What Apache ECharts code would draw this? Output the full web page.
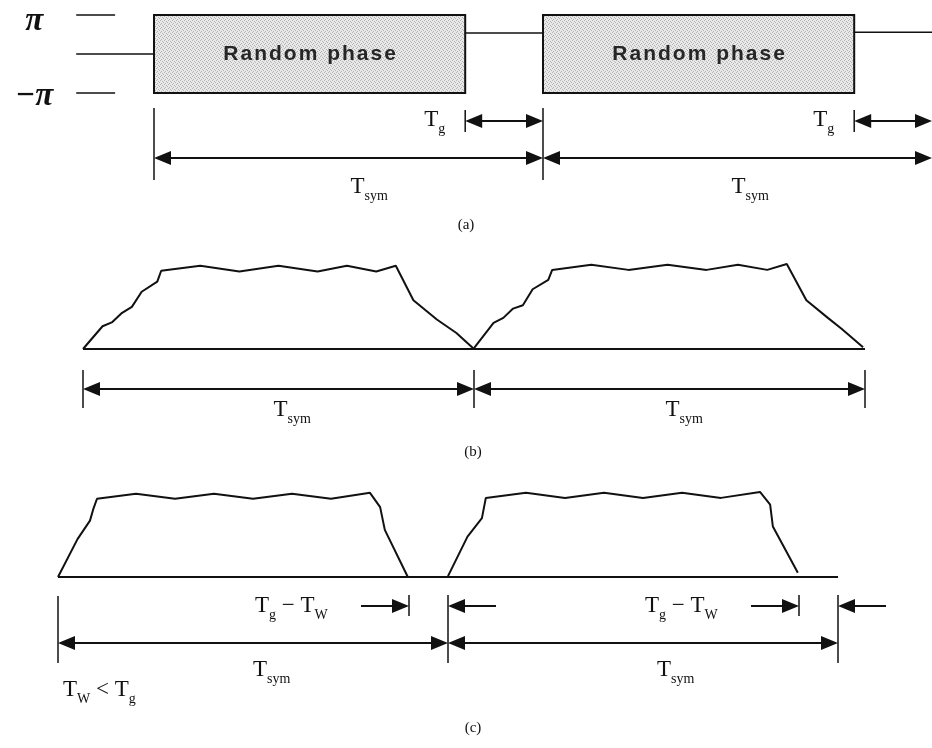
<!DOCTYPE html>
<html><head><meta charset="utf-8">
<script src="https://cdn.jsdelivr.net/npm/echarts@6/dist/echarts.min.js"></script>
<style>html,body{margin:0;padding:0;background:#fff}#c{width:932px;height:748px}</style>
</head><body><div id="c"></div>
<script>
// ================= DATA (time in units of Tsym) =================
// Panel (a): random phase per symbol (phase in units of π)
const phaseTickLabels = ['π', '−π'];
const phaseTickValues = [1, -1];
const boxStart = [0, 1];
const boxEnd = [0.8, 1.8];
const boxText = ['Random phase', 'Random phase'];
const phaseSegStart = [-0.2, 0.8, 1.8];
const phaseSegEnd = [0, 1, 2];
const phaseSegLevel = [0, 0.54, 0.56];
const guardStartA = [0.8, 1.8];
const guardEndA = [1, 2];
const symStart = [0, 1];
const symEnd = [1, 2];

// Panel (b): window envelope, Tw = Tg
const envB1T = [0, 0.05, 0.075, 0.10, 0.125, 0.15, 0.19, 0.20, 0.30, 0.40, 0.50, 0.60, 0.675, 0.75, 0.80, 0.845, 0.905, 0.955, 1.0];
const envB1A = [0, 0.27, 0.32, 0.43, 0.50, 0.68, 0.80, 0.93, 0.99, 0.92, 0.99, 0.92, 0.99, 0.92, 0.99, 0.58, 0.35, 0.19, 0];
const envB2T = [1.0, 1.05, 1.075, 1.10, 1.125, 1.15, 1.19, 1.20, 1.30, 1.395, 1.495, 1.595, 1.675, 1.75, 1.80, 1.85, 1.905, 1.94, 1.995];
const envB2A = [0.01, 0.31, 0.37, 0.48, 0.52, 0.71, 0.82, 0.94, 1.0, 0.94, 1.0, 0.94, 1.0, 0.94, 1.01, 0.58, 0.37, 0.24, 0.02];

// Panel (c): window envelope, Tw < Tg
const envC1T = [0, 0.05, 0.082, 0.09, 0.10, 0.20, 0.30, 0.40, 0.50, 0.60, 0.70, 0.80, 0.826, 0.838, 0.897];
const envC1A = [0, 0.45, 0.67, 0.80, 0.93, 0.99, 0.93, 0.99, 0.93, 0.99, 0.93, 1.0, 0.83, 0.56, 0];
const envC2T = [1.0, 1.05, 1.087, 1.097, 1.20, 1.30, 1.40, 1.50, 1.60, 1.70, 1.80, 1.826, 1.833, 1.897];
const envC2A = [0.01, 0.48, 0.70, 0.94, 1.0, 0.94, 1.0, 0.94, 1.0, 0.94, 1.01, 0.86, 0.60, 0.05];
const gapStartC = [0.9, 1.9];
const gapEndC = [1, 2];

const captions = ['(a)', '(b)', '(c)'];

// ================= LAYOUT / STYLE =================
const INK = '#111';
const SERIF = '"Liberation Serif","DejaVu Serif",serif';
const MAIN_FONT = '23px ' + SERIF;
const SUB_FONT = '14px ' + SERIF;
const BOX_FONT = 'bold 21px "Liberation Sans",Arial,sans-serif';
const GRIDS = [
  {left: 154, top: 15, width: 778, height: 78},
  {left: 83, top: 248, width: 782, height: 101},
  {left: 58, top: 476, width: 780, height: 101}
];
const Y_RANGE = [[-1, 1], [0, 1.2], [0, 1.2]];

const chart = echarts.init(document.getElementById('c'), null, {renderer: 'canvas', width: 932, height: 748});

// stipple fill for the phase boxes
const pc = document.createElement('canvas'); pc.width = 4; pc.height = 4;
const pg = pc.getContext('2d');
pg.fillStyle = '#e8e8e8'; pg.fillRect(0, 0, 4, 4);
pg.fillStyle = '#b4b4b4';
[[0, 0], [2, 1], [1, 3], [3, 2]].forEach(([x, y]) => pg.fillRect(x, y, 1, 1));
const stipple = {image: pc, repeat: 'repeat'};

const mctx = document.createElement('canvas').getContext('2d');
function tw(t, f) { mctx.font = f; return mctx.measureText(t).width; }
function txt(t, x, y, font, align, fill) {
  return {type: 'text', style: {text: t, x: x, y: y, font: font, fill: fill || INK,
    align: align || 'left', verticalAlign: 'middle'}};
}
// letter-spaced text, centred on (x, y)
function spaced(t, x, y, font, sp, fill) {
  const chars = Array.from(t);
  const total = chars.reduce((s, c) => s + tw(c, font), 0) + sp * (chars.length - 1);
  let cx = x - total / 2;
  return chars.map(c => { const el = txt(c, cx, y, font, 'left', fill); cx += tw(c, font) + sp; return el; });
}
function richLabel(x, y, parts, align) {
  const total = parts.reduce((s, [t, sub]) => s + tw(t, sub ? SUB_FONT : MAIN_FONT), 0);
  let cx = align === 'right' ? x - total : align === 'center' ? x - total / 2 : x;
  return parts.map(([t, sub]) => {
    const f = sub ? SUB_FONT : MAIN_FONT;
    const el = txt(t, cx, sub ? y + 9 : y, f, 'left');
    cx += tw(t, f);
    return el;
  });
}
function head(x, y, d) {
  return {type: 'polygon', shape: {points: [[x, y], [x - d * 17, y - 7], [x - d * 17, y + 7]]}, style: {fill: INK}};
}
function renderAnn(items) {
  return function (params, api) {
    const it = items[params.dataIndex];
    const X = t => api.coord([t, 0])[0];
    if (it.type === 'tick') {
      const x = X(it.t);
      return {type: 'line', shape: {x1: x, y1: it.y0, x2: x, y2: it.y1}, style: {stroke: INK, lineWidth: 1.5}};
    }
    if (it.type === 'dim') {
      const x0 = X(it.t0), x1 = X(it.t1);
      return {type: 'group', children: [
        {type: 'line', shape: {x1: x0 + 5, y1: it.y, x2: x1 - 5, y2: it.y}, style: {stroke: INK, lineWidth: 2}},
        head(x0, it.y, -1), head(x1, it.y, 1)]};
    }
    if (it.type === 'pointer') {
      const x = X(it.t), tail = x - it.dir * it.len;
      return {type: 'group', children: [
        {type: 'line', shape: {x1: tail, y1: it.y, x2: x - it.dir * 5, y2: it.y}, style: {stroke: INK, lineWidth: 2}},
        head(x, it.y, it.dir)]};
    }
    if (it.type === 'label') {
      return {type: 'group', children: richLabel(X(it.t) + it.dx, it.y, it.parts, it.align)};
    }
    return null;
  };
}
function annSeries(gi, items) {
  return {type: 'custom', xAxisIndex: gi, yAxisIndex: gi, silent: true, clip: false, z: 5,
    data: items.map(it => [it.t0 !== undefined ? it.t0 : it.t, it.t1 !== undefined ? it.t1 : it.t]),
    renderItem: renderAnn(items)};
}
const mid = (a, b) => (a + b) / 2;
const TSYM = [['T', 0], ['sym', 1]];

// annotations per panel
const annA = [
  ...symStart.map(t => ({type: 'tick', t, y0: 108, y1: 180})),
  ...guardStartA.map(t => ({type: 'tick', t, y0: 110, y1: 132})),
  ...guardStartA.map((t, i) => ({type: 'dim', t0: t, t1: guardEndA[i], y: 121})),
  ...symStart.map((t, i) => ({type: 'dim', t0: t, t1: symEnd[i], y: 158})),
  ...guardStartA.map(t => ({type: 'label', t, dx: -20, y: 120, align: 'right', parts: [['T', 0], ['g', 1]]})),
  {type: 'label', t: mid(symStart[0], symEnd[0]), dx: 2, y: 187, align: 'left', parts: TSYM},
  {type: 'label', t: mid(symStart[1], symEnd[1]), dx: -6, y: 187, align: 'left', parts: TSYM}
];
const annB = [
  {type: 'tick', t: symStart[0], y0: 370, y1: 408},
  {type: 'tick', t: symStart[1], y0: 370, y1: 408},
  {type: 'tick', t: symEnd[1], y0: 370, y1: 408},
  ...symStart.map((t, i) => ({type: 'dim', t0: t, t1: symEnd[i], y: 389})),
  {type: 'label', t: mid(symStart[0], symEnd[0]), dx: -5, y: 410, align: 'left', parts: TSYM},
  {type: 'label', t: mid(symStart[1], symEnd[1]), dx: -4, y: 410, align: 'left', parts: TSYM}
];
const TGW = [['T', 0], ['g', 1], [' − ', 0], ['T', 0], ['W', 1]];
const annC = [
  {type: 'tick', t: symStart[0], y0: 596, y1: 663},
  {type: 'tick', t: symStart[1], y0: 595, y1: 663},
  {type: 'tick', t: symEnd[1], y0: 595, y1: 663},
  ...gapStartC.map(t => ({type: 'tick', t, y0: 595, y1: 616})),
  ...symStart.map((t, i) => ({type: 'dim', t0: t, t1: symEnd[i], y: 643})),
  ...gapStartC.map(t => ({type: 'pointer', t, dir: 1, len: 48, y: 606})),
  ...gapEndC.map(t => ({type: 'pointer', t, dir: -1, len: 48, y: 606})),
  ...gapStartC.map(t => ({type: 'label', t, dx: -154, y: 606, align: 'left', parts: TGW})),
  {type: 'label', t: mid(symStart[0], symEnd[0]), dx: 0, y: 670, align: 'left', parts: TSYM},
  {type: 'label', t: mid(symStart[1], symEnd[1]), dx: 14, y: 670, align: 'left', parts: TSYM},
  {type: 'label', t: symStart[0], dx: 5, y: 690, align: 'left', parts: [['T', 0], ['W', 1], [' < ', 0], ['T', 0], ['g', 1]]}
];

const line = (gi, T, A) => ({type: 'line', xAxisIndex: gi, yAxisIndex: gi, symbol: 'none', silent: true,
  clip: false, lineStyle: {color: INK, width: 2}, data: T.map((t, i) => [t, A[i]])});

const option = {
  animation: false,
  backgroundColor: '#fff',
  title: [
    {text: captions[0], left: 466, top: 218, textAlign: 'center'},
    {text: captions[1], left: 473, top: 445, textAlign: 'center'},
    {text: captions[2], left: 473, top: 721, textAlign: 'center'}
  ].map(t => Object.assign(t, {textStyle: {fontFamily: SERIF, fontSize: 15, fontWeight: 'normal', color: INK}, padding: 0})),
  grid: GRIDS.map(g => Object.assign({containLabel: false}, g)),
  xAxis: GRIDS.map((g, i) => ({type: 'value', gridIndex: i, min: 0, max: 2, show: false})),
  yAxis: GRIDS.map((g, i) => ({type: 'value', gridIndex: i, min: Y_RANGE[i][0], max: Y_RANGE[i][1], show: false})),
  series: [
    // panel (a): phase axis marks
    {type: 'custom', xAxisIndex: 0, yAxisIndex: 0, silent: true, clip: false,
      data: phaseTickValues.map(v => [-0.2, v]),
      renderItem(params, api) {
        const p0 = api.coord([-0.2, api.value(1)]), p1 = api.coord([-0.1, api.value(1)]);
        const dy = params.dataIndex === 0 ? 6 : 3;
        return {type: 'group', children: [
          {type: 'line', shape: {x1: p0[0], y1: p0[1], x2: p1[0], y2: p1[1]}, style: {stroke: INK, lineWidth: 1.5}},
          txt(phaseTickLabels[params.dataIndex], p0[0] - 42, p0[1] + dy, 'italic bold 33px ' + SERIF, 'center')]};
      }},
    // panel (a): phase between symbols
    {type: 'custom', xAxisIndex: 0, yAxisIndex: 0, silent: true, clip: false,
      data: phaseSegStart.map((s, i) => [s, phaseSegLevel[i], phaseSegEnd[i]]),
      renderItem(params, api) {
        const p0 = api.coord([api.value(0), api.value(1)]), p1 = api.coord([api.value(2), api.value(1)]);
        return {type: 'line', shape: {x1: p0[0], y1: p0[1], x2: p1[0], y2: p1[1]}, style: {stroke: INK, lineWidth: 1.5}};
      }},
    // panel (a): random phase boxes
    {type: 'custom', xAxisIndex: 0, yAxisIndex: 0, silent: true, clip: false, z: 4,
      data: boxStart.map((s, i) => [s, boxEnd[i]]),
      renderItem(params, api) {
        const p0 = api.coord([api.value(0), 1]), p1 = api.coord([api.value(1), -1]);
        return {type: 'group', children: [
          {type: 'rect', shape: {x: p0[0], y: p0[1], width: p1[0] - p0[0], height: p1[1] - p0[1]},
            style: {fill: stipple, stroke: INK, lineWidth: 2}},
          ...spaced(boxText[params.dataIndex], (p0[0] + p1[0]) / 2, (p0[1] + p1[1]) / 2, BOX_FONT, 2, '#262626')]};
      }},
    annSeries(0, annA),
    // panel (b)
    line(1, [0, 2], [0, 0]),
    line(1, envB1T, envB1A),
    line(1, envB2T, envB2A),
    annSeries(1, annB),
    // panel (c)
    line(2, [0, 2], [0, 0]),
    line(2, envC1T, envC1A),
    line(2, envC2T, envC2A),
    annSeries(2, annC)
  ]
};
chart.setOption(option);
</script></body></html>
